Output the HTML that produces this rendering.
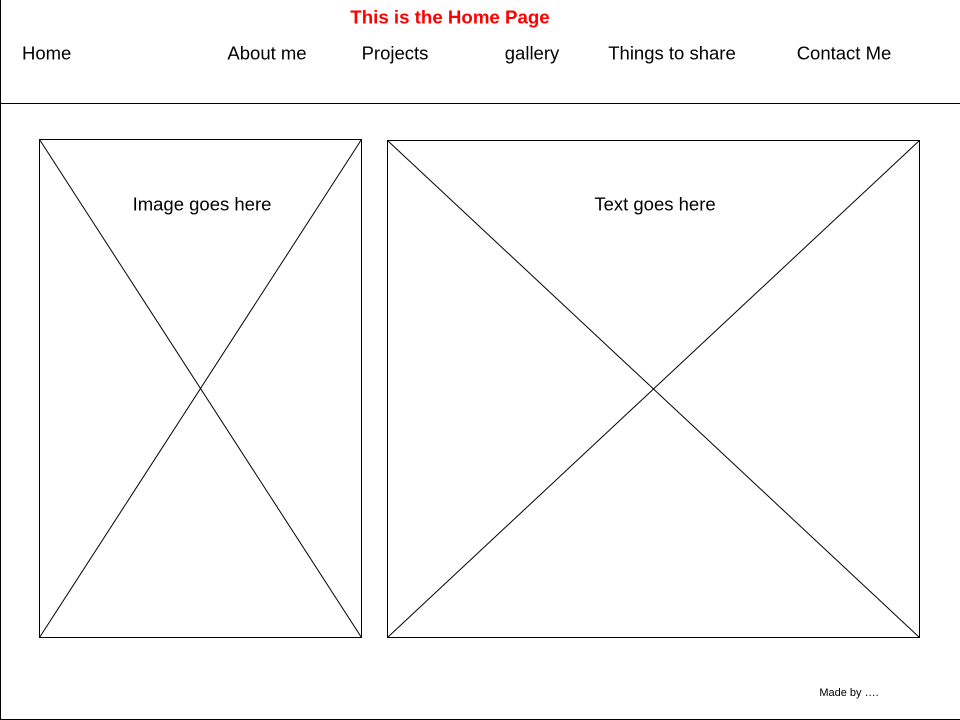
<!DOCTYPE html>
<html><head><style>
html,body{margin:0;padding:0;background:#fff;}
svg{display:block;}
text{font-family:"Liberation Sans",Arial,sans-serif;}
</style></head><body>
<svg width="960" height="720" viewBox="0 0 960 720" xmlns="http://www.w3.org/2000/svg">
<rect width="960" height="720" fill="#fff"/>
<g stroke="#000" stroke-width="1" fill="none">
<line x1="0.5" y1="0" x2="0.5" y2="720"/>
<line x1="0" y1="103.5" x2="960" y2="103.5"/>
<line x1="0" y1="719.5" x2="960" y2="719.5"/>
<rect x="39.5" y="139.5" width="322" height="498"/>
<line x1="39.5" y1="139.5" x2="361.5" y2="637.5"/>
<line x1="361.5" y1="139.5" x2="39.5" y2="637.5"/>
<rect x="387.5" y="140.5" width="532" height="497"/>
<line x1="387.5" y1="140.5" x2="919.5" y2="637.5"/>
<line x1="919.5" y1="140.5" x2="387.5" y2="637.5"/>
</g>
<text x="450" y="23.5" text-anchor="middle" font-size="18.7" font-weight="bold" fill="#ff0000">This is the Home Page</text>
<g font-size="18.5" fill="#000">
<text x="22" y="59.5">Home</text>
<text x="267" y="59.5" text-anchor="middle">About me</text>
<text x="395" y="59.5" text-anchor="middle">Projects</text>
<text x="532" y="59.5" text-anchor="middle">gallery</text>
<text x="672" y="59.5" text-anchor="middle">Things to share</text>
<text x="844" y="59.5" text-anchor="middle">Contact Me</text>
<text x="202" y="210.5" text-anchor="middle">Image goes here</text>
<text x="655" y="210.5" text-anchor="middle">Text goes here</text>
</g>
<text x="849" y="696" text-anchor="middle" font-size="11">Made by ….</text>
</svg>
</body></html>
